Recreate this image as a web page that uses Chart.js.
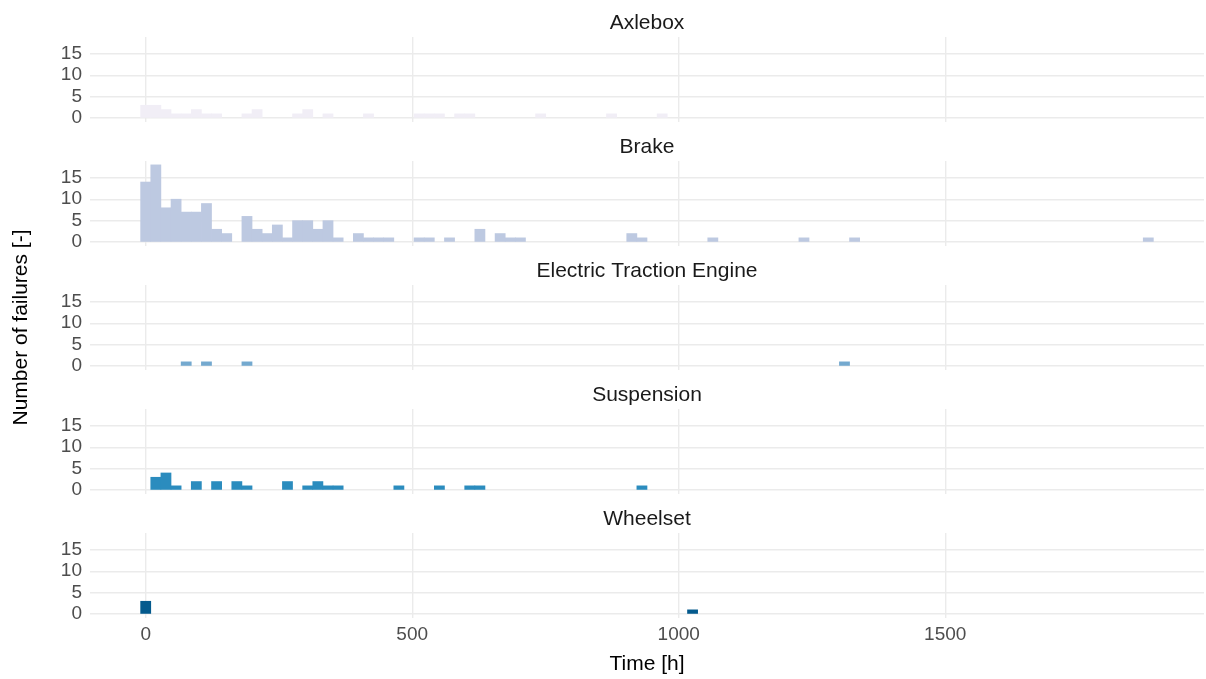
<!DOCTYPE html>
<html>
<head>
<meta charset="utf-8">
<title>Failures over time by component</title>
<script src="https://cdn.jsdelivr.net/npm/chart.js@4.4.1/dist/chart.umd.min.js"></script>
<style>
  html, body { margin: 0; padding: 0; background: #ffffff; }
  #wrap { position: relative; width: 1206px; height: 679px; }
  #wrap canvas { position: absolute; left: 0; top: 0; }
</style>
</head>
<body>
<div id="wrap"></div>
<script>
// Failure counts per 19 h time bin (bin k is centred on k * 19 h), one array per component.
const components = ['Axlebox', 'Brake', 'Electric Traction Engine', 'Suspension', 'Wheelset'];
const binWidth = 19;

const axleboxCounts = [
  3, 3, 2, 1, 1, 2, 1, 1, 0, 0, 1, 2, 0, 0, 0, 1, 2, 0, 1, 0,
  0, 0, 1, 0, 0, 0, 0, 1, 1, 1, 0, 1, 1, 0, 0, 0, 0, 0, 0, 1,
  0, 0, 0, 0, 0, 0, 1, 0, 0, 0, 0, 1, 0, 0, 0, 0, 0, 0, 0, 0,
  0, 0, 0, 0, 0, 0, 0, 0, 0, 0, 0, 0, 0, 0, 0, 0, 0, 0, 0, 0,
  0, 0, 0, 0, 0, 0, 0, 0, 0, 0, 0, 0, 0, 0, 0, 0, 0, 0, 0, 0
];
const brakeCounts = [
  14, 18, 8, 10, 7, 7, 9, 3, 2, 0, 6, 3, 2, 4, 1, 5, 5, 3, 5, 1,
  0, 2, 1, 1, 1, 0, 0, 1, 1, 0, 1, 0, 0, 3, 0, 2, 1, 1, 0, 0,
  0, 0, 0, 0, 0, 0, 0, 0, 2, 1, 0, 0, 0, 0, 0, 0, 1, 0, 0, 0,
  0, 0, 0, 0, 0, 1, 0, 0, 0, 0, 1, 0, 0, 0, 0, 0, 0, 0, 0, 0,
  0, 0, 0, 0, 0, 0, 0, 0, 0, 0, 0, 0, 0, 0, 0, 0, 0, 0, 0, 1
];
const tractionCounts = [
  0, 0, 0, 0, 1, 0, 1, 0, 0, 0, 1, 0, 0, 0, 0, 0, 0, 0, 0, 0,
  0, 0, 0, 0, 0, 0, 0, 0, 0, 0, 0, 0, 0, 0, 0, 0, 0, 0, 0, 0,
  0, 0, 0, 0, 0, 0, 0, 0, 0, 0, 0, 0, 0, 0, 0, 0, 0, 0, 0, 0,
  0, 0, 0, 0, 0, 0, 0, 0, 0, 1, 0, 0, 0, 0, 0, 0, 0, 0, 0, 0,
  0, 0, 0, 0, 0, 0, 0, 0, 0, 0, 0, 0, 0, 0, 0, 0, 0, 0, 0, 0
];
const suspensionCounts = [
  0, 3, 4, 1, 0, 2, 0, 2, 0, 2, 1, 0, 0, 0, 2, 0, 1, 2, 1, 1,
  0, 0, 0, 0, 0, 1, 0, 0, 0, 1, 0, 0, 1, 1, 0, 0, 0, 0, 0, 0,
  0, 0, 0, 0, 0, 0, 0, 0, 0, 1, 0, 0, 0, 0, 0, 0, 0, 0, 0, 0,
  0, 0, 0, 0, 0, 0, 0, 0, 0, 0, 0, 0, 0, 0, 0, 0, 0, 0, 0, 0,
  0, 0, 0, 0, 0, 0, 0, 0, 0, 0, 0, 0, 0, 0, 0, 0, 0, 0, 0, 0
];
const wheelsetCounts = [
  3, 0, 0, 0, 0, 0, 0, 0, 0, 0, 0, 0, 0, 0, 0, 0, 0, 0, 0, 0,
  0, 0, 0, 0, 0, 0, 0, 0, 0, 0, 0, 0, 0, 0, 0, 0, 0, 0, 0, 0,
  0, 0, 0, 0, 0, 0, 0, 0, 0, 0, 0, 0, 0, 0, 1, 0, 0, 0, 0, 0,
  0, 0, 0, 0, 0, 0, 0, 0, 0, 0, 0, 0, 0, 0, 0, 0, 0, 0, 0, 0,
  0, 0, 0, 0, 0, 0, 0, 0, 0, 0, 0, 0, 0, 0, 0, 0, 0, 0, 0, 0
];

const timeTicks = [0, 500, 1000, 1500];
const countTicks = [0, 5, 10, 15];

const seriesCounts = [axleboxCounts, brakeCounts, tractionCounts, suspensionCounts, wheelsetCounts];
const seriesColors = ['#f1eef6', '#bdc9e1', '#74a9cf', '#2b8cbe', '#045a8d'];

// Facet geometry (px)
const W = 1206, H = 679;
const PITCH = 124;        // vertical distance between facets
const PLOT_BOTTOM = 122;  // plot area bottom within a facet
const AXIS_W = 90;        // room for the count labels on the left
const FONT = "'Liberation Sans', Arial, Helvetica, sans-serif";
const GRID = { color: '#ebebeb', lineWidth: 1.4, drawTicks: false, offset: false };

const wrap = document.getElementById('wrap');

components.forEach((name, i) => {
  const last = i === components.length - 1;
  const middle = i === 2;
  const canvas = document.createElement('canvas');
  canvas.width = W;
  canvas.height = H;
  wrap.appendChild(canvas);

  // empty bins stay in the data (they set the bar width) but draw nothing
  const points = seriesCounts[i].map((c, k) => ({ x: k * binWidth, y: c === 0 ? null : c }));

  new Chart(canvas, {
    type: 'bar',
    data: {
      datasets: [{
        label: name,
        data: points,
        backgroundColor: seriesColors[i],
        borderWidth: 0,
        barPercentage: 1,
        categoryPercentage: 1
      }]
    },
    options: {
      responsive: false,
      animation: false,
      events: [],
      layout: {
        padding: {
          top: i * PITCH,
          bottom: last ? 0 : H - (i * PITCH + PLOT_BOTTOM),
          left: 0,
          right: 2
        }
      },
      plugins: {
        legend: { display: false },
        tooltip: { enabled: false },
        title: {
          display: true,
          text: name,
          fullSize: false,
          color: '#1a1a1a',
          font: { family: FONT, size: 21, weight: 'normal' },
          padding: { top: 10.8, bottom: 1.0 }
        }
      },
      scales: {
        x: {
          type: 'linear',
          min: -104.5,
          max: 1985.5,
          offset: false,
          grid: GRID,
          border: { display: false },
          afterBuildTicks: (s) => { s.ticks = timeTicks.map(v => ({ value: v })); },
          afterFit: (s) => {
            s.height = last ? H - (i * PITCH + PLOT_BOTTOM) : 0;
            s.paddingLeft = 0;
            s.paddingRight = 0;
          },
          ticks: {
            display: last,
            padding: 5,
            color: '#4d4d4d',
            font: { family: FONT, size: 19 },
            maxRotation: 0,
            callback: (v) => String(v)
          },
          title: {
            display: last,
            text: 'Time [h]',
            color: '#000000',
            font: { family: FONT, size: 21 },
            padding: { top: 0, bottom: 2.6 }
          }
        },
        y: {
          min: -0.9,
          max: 18.9,
          grid: GRID,
          border: { display: false },
          afterBuildTicks: (s) => { s.ticks = countTicks.map(v => ({ value: v })); },
          afterFit: (s) => {
            s.width = AXIS_W;
            s.paddingTop = 0;
            s.paddingBottom = 0;
          },
          ticks: {
            padding: 8,
            color: '#4d4d4d',
            font: { family: FONT, size: 19 },
            callback: (v) => String(v)
          },
          title: {
            display: middle,
            text: 'Number of failures [-]',
            color: '#000000',
            font: { family: FONT, size: 21 },
            padding: { top: 8.4, bottom: 0 }
          }
        }
      }
    }
  });
});
</script>
</body>
</html>
